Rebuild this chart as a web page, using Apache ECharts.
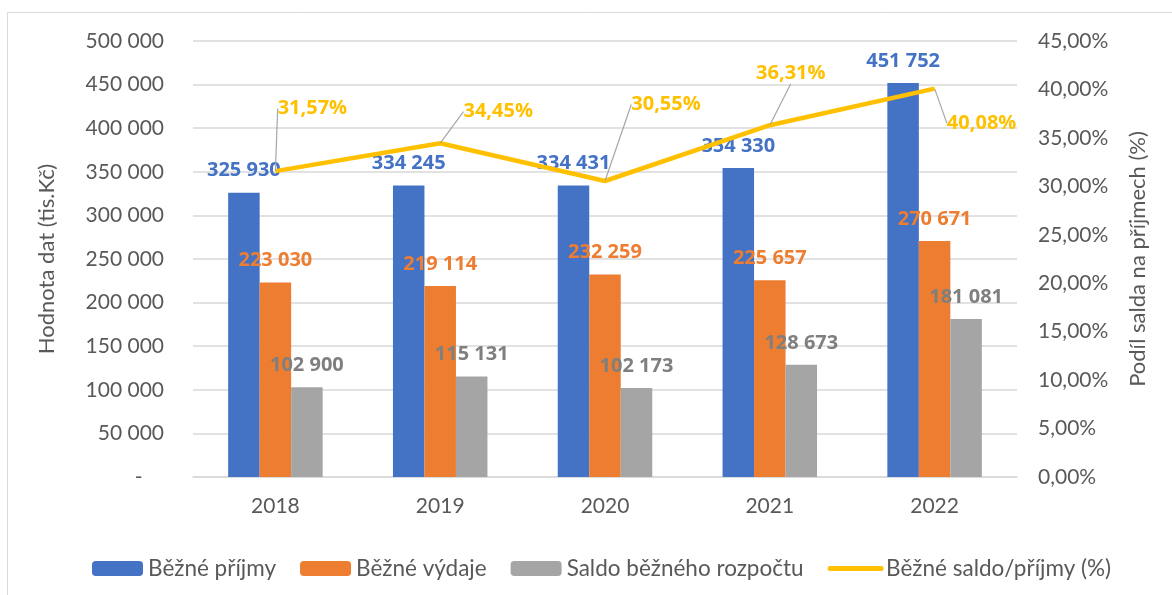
<!DOCTYPE html>
<html>
<head>
<meta charset="utf-8">
<script src="https://cdn.jsdelivr.net/npm/echarts@6/dist/echarts.min.js"></script>
<style>
  html, body { margin: 0; padding: 0; background: #fff; }
  #chart { width: 1172px; height: 595px; }
</style>
</head>
<body>
<div id="chart"></div>
<script>
var years = ['2018', '2019', '2020', '2021', '2022'];
var prijmy = [325930, 334245, 334431, 354330, 451752];
var vydaje = [223030, 219114, 232259, 225657, 270671];
var saldo = [102900, 115131, 102173, 128673, 181081];
var podil = [31.57, 34.45, 30.55, 36.31, 40.08];

// where each percentage label sits, relative to its default place above the point
var podilLabelShift = [[37, -47], [58, -16], [61, -61], [21, -36], [47, 50]];

var textGray = '#595959';
var font = 'Lato';
var boldFont = 'Open Sans';

function fmtNum(v) {
    if (v === 0) return '-    ';
    return String(v).replace(/\B(?=(\d{3})+(?!\d))/g, ' ');
}
function fmtPct(v) {
    return v.toFixed(2).replace('.', ',') + '%';
}

var chartDom = document.getElementById('chart');
var myChart = echarts.init(chartDom);
var option;

function barLabel(color) {
    return {
        show: true,
        position: 'top',
        distance: 12,
        color: color,
        fontFamily: boldFont,
        fontWeight: 'bold',
        fontSize: 20,
        formatter: function (p) { return fmtNum(p.value); }
    };
}

option = {
    animation: false,
    backgroundColor: '#fff',
    textStyle: { fontFamily: font },
    graphic: [{
        type: 'rect',
        shape: { x: 7.5, y: 12.5, width: 1200, height: 640 },
        style: { fill: 'none', stroke: '#D9D9D9', lineWidth: 1 },
        silent: true
    }],
    grid: {
        left: 193,
        right: 155,
        top: 41,
        bottom: 118
    },
    legend: {
        left: 87,
        top: 552,
        itemWidth: 51,
        itemHeight: 15,
        itemGap: 24,
        textStyle: { color: textGray, fontSize: 22.5, fontFamily: font },
        data: [
            'Běžné příjmy',
            'Běžné výdaje',
            'Saldo běžného rozpočtu',
            {
                name: 'Běžné saldo/příjmy (%)',
                itemStyle: { opacity: 0 },
                lineStyle: { width: 5, cap: 'round' }
            }
        ]
    },
    xAxis: {
        type: 'category',
        data: years,
        axisTick: { show: false },
        axisLine: { lineStyle: { color: '#D9D9D9', width: 1.5 } },
        axisLabel: { color: textGray, fontSize: 21, margin: 19, fontFamily: font }
    },
    yAxis: [{
        type: 'value',
        min: 0,
        max: 500000,
        interval: 50000,
        name: 'Hodnota dat (tis.Kč)',
        nameLocation: 'middle',
        nameRotate: 90,
        nameGap: 135,
        nameTextStyle: { color: textGray, fontSize: 22, fontFamily: font },
        axisLine: { show: false },
        axisTick: { show: false },
        axisLabel: { color: textGray, fontSize: 21, margin: 29, fontFamily: font, formatter: fmtNum },
        splitLine: { lineStyle: { color: '#D9D9D9', width: 1.5 } }
    }, {
        type: 'value',
        min: 0,
        max: 45,
        interval: 5,
        position: 'right',
        name: 'Podíl salda na příjmech (%)',
        nameLocation: 'middle',
        nameRotate: 90,
        nameGap: 110,
        nameTextStyle: { color: textGray, fontSize: 22, fontFamily: font },
        axisLine: { show: false },
        axisTick: { show: false },
        axisLabel: { color: textGray, fontSize: 21, margin: 21, fontFamily: font, formatter: fmtPct },
        splitLine: { show: false }
    }],
    series: [{
        name: 'Běžné příjmy',
        type: 'bar',
        data: prijmy,
        barWidth: 31.5,
        barGap: '0%',
        itemStyle: { color: '#4472C4' },
        label: barLabel('#4472C4')
    }, {
        name: 'Běžné výdaje',
        type: 'bar',
        data: vydaje,
        barWidth: 31.5,
        barGap: '0%',
        itemStyle: { color: '#ED7D31' },
        label: barLabel('#ED7D31')
    }, {
        name: 'Saldo běžného rozpočtu',
        type: 'bar',
        data: saldo,
        barWidth: 31.5,
        barGap: '0%',
        itemStyle: { color: '#A5A5A5' },
        label: barLabel('#7F7F7F')
    }, {
        name: 'Běžné saldo/příjmy (%)',
        type: 'line',
        yAxisIndex: 1,
        data: podil,
        symbol: 'circle',
        symbolSize: 1,
        showSymbol: true,
        z: 5,
        lineStyle: { color: '#FFC000', width: 4.5 },
        itemStyle: { color: '#FFC000' },
        label: {
            show: true,
            position: 'top',
            color: '#FFC000',
            fontFamily: boldFont,
            fontWeight: 'bold',
            fontSize: 20,
            formatter: function (p) { return fmtPct(p.value); }
        },
        labelLine: {
            show: true,
            lineStyle: { color: '#A6A6A6', width: 1.2 }
        },
        labelLayout: function (params) {
            var s = podilLabelShift[params.dataIndex];
            return { dx: s[0], dy: s[1] };
        }
    }]
};

option && myChart.setOption(option);
</script>
</body>
</html>
